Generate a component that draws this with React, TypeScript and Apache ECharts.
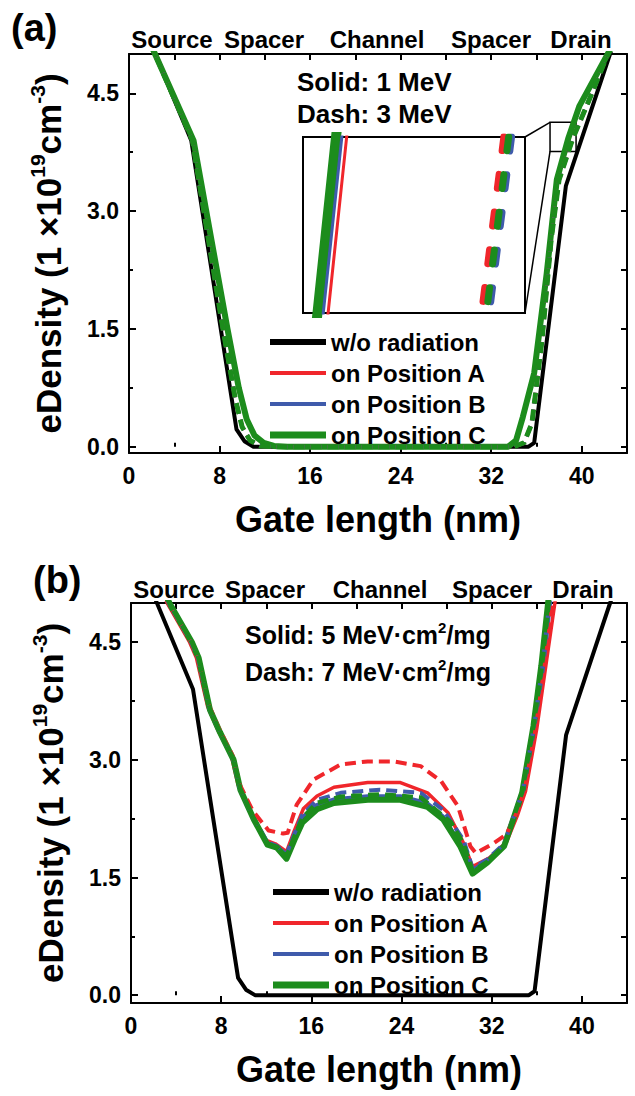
import React, { useEffect, useRef } from "react";
import * as echarts from "echarts";

const FONT = '"Liberation Sans", Arial, Helvetica, sans-serif';

// ---- tick labels / categories ----
const xMajorTicks = [0, 8, 16, 24, 32, 40];
const xMinorTicks = [4, 12, 20, 28, 36];
const xTopTicks = [0, 4, 8, 12, 16, 20, 24, 28, 32, 36, 40, 44];
const yMajorTicks = [0, 1.5, 3.0, 4.5];
const yMinorTicks = [0.75, 2.25, 3.75];
const yRightTicks = [0, 0.75, 1.5, 2.25, 3.0, 3.75, 4.5];
const legendNames = ["w/o radiation", "on Position A", "on Position B", "on Position C"];
const regionLabels = ["Source", "Spacer", "Channel", "Spacer", "Drain"];

// ---- data: [gate length (nm), eDensity (1e19 cm^-3)] ----
const noRadiation = [[0, 5.77], [2.3, 5.0], [5.5, 3.9], [9.5, 0.22], [10.2, 0.07], [11.0, 0.0], [35.3, 0.0], [35.8, 0.05], [38.6, 3.32], [42.5, 5.0], [44, 5.6]];

// panel (a) solid: 1 MeV
const posA_1MeV = [[0, 5.75], [2.3, 5.0], [5.7, 3.9], [8.7, 1.5], [9.7, 0.76], [10.4, 0.36], [11.1, 0.15], [11.9, 0.05], [12.8, 0.01], [14.0, 0.0], [33.5, 0.0], [34.2, 0.08], [34.8, 0.37], [35.8, 0.93], [36.92, 2.2], [37.822, 3.4], [38.822, 3.92], [39.82, 4.34], [42.3, 5.0], [44, 5.45]];
const posB_1MeV = [[0, 5.75], [2.3, 5.0], [5.7, 3.9], [8.7, 1.5], [9.7, 0.76], [10.4, 0.36], [11.1, 0.14], [11.9, 0.05], [12.8, 0.01], [14.0, 0.0], [33.5, 0.0], [34.2, 0.08], [34.8, 0.37], [35.8, 0.93], [36.91, 2.2], [37.812, 3.4], [38.812, 3.92], [39.81, 4.34], [42.3, 5.0], [44, 5.45]];
const posC_1MeV = [[0, 5.75], [2.3, 5.0], [5.7, 3.9], [8.7, 1.5], [9.7, 0.75], [10.4, 0.35], [11.1, 0.14], [11.9, 0.05], [12.8, 0.01], [14.0, 0.0], [33.5, 0.0], [34.2, 0.08], [34.8, 0.38], [35.8, 0.94], [36.9, 2.2], [37.8, 3.4], [38.8, 3.92], [39.8, 4.34], [42.3, 5.0], [44, 5.45]];
// panel (a) dash: 3 MeV
const posA_3MeV = [[0, 5.75], [2.3, 5.0], [5.6, 3.9], [8.3, 1.5], [9.4, 0.6], [10.0, 0.25], [10.7, 0.08], [11.6, 0.01], [13.0, 0.0], [34.0, 0.0], [34.9, 0.05], [35.6, 0.3], [36.5, 1.37], [37.3, 2.64], [37.99, 3.4], [39.19, 3.92], [40.7, 4.43], [42.3, 5.0], [44, 5.5]];
const posB_3MeV = [[0, 5.75], [2.3, 5.0], [5.6, 3.9], [8.3, 1.5], [9.4, 0.6], [10.0, 0.25], [10.7, 0.08], [11.6, 0.01], [13.0, 0.0], [34.0, 0.0], [34.9, 0.05], [35.6, 0.3], [36.5, 1.37], [37.3, 2.64], [38.006, 3.4], [39.206, 3.92], [40.7, 4.43], [42.3, 5.0], [44, 5.5]];
const posC_3MeV = [[0, 5.75], [2.3, 5.0], [5.6, 3.9], [8.3, 1.5], [9.4, 0.6], [10.0, 0.25], [10.7, 0.08], [11.6, 0.01], [13.0, 0.0], [34.0, 0.0], [34.9, 0.05], [35.6, 0.3], [36.5, 1.37], [37.3, 2.64], [38.0, 3.4], [39.2, 3.92], [40.7, 4.43], [42.3, 5.0], [44, 5.5]];

// panel (b) solid: 5 MeV·cm2/mg
const posA_5LET = [[1.9, 5.5], [3.2, 5.0], [5.2, 4.5], [5.8, 4.3], [6.8, 3.68], [7.7, 3.38], [8.9, 3.05], [9.5, 2.68], [10.7, 2.3], [11.9, 1.98], [12.8, 1.93], [13.8, 1.83], [14.5, 2.1], [15.3, 2.38], [16.5, 2.54], [18, 2.65], [21, 2.71], [23.9, 2.71], [26.3, 2.58], [28.1, 2.33], [29.5, 1.94], [30.3, 1.64], [31.8, 1.75], [33.3, 1.95], [34.3, 2.3], [35.0, 2.6], [36.0, 3.4], [36.8, 4.2], [37.6, 5.0], [38.1, 5.6]];
const posB_5LET = [[2.0, 5.5], [3.3, 5.0], [5.3, 4.5], [5.9, 4.3], [6.9, 3.66], [7.8, 3.37], [9.0, 3.03], [9.6, 2.65], [10.8, 2.27], [12.0, 1.95], [12.9, 1.9], [13.8, 1.8], [14.5, 2.03], [15.2, 2.27], [16.5, 2.43], [18, 2.5], [21, 2.54], [23.9, 2.54], [26.3, 2.45], [27.7, 2.28], [29.2, 1.94], [30.3, 1.6], [31.6, 1.72], [33.2, 1.93], [34.1, 2.3], [34.8, 2.6], [35.8, 3.43], [36.6, 4.2], [37.2, 5.0], [37.7, 5.6]];
const posC_5LET = [[2.0, 5.5], [3.4, 5.0], [5.4, 4.5], [6.0, 4.3], [7.0, 3.64], [7.9, 3.35], [9.1, 3.0], [9.7, 2.62], [10.9, 2.24], [12.1, 1.92], [12.95, 1.88], [13.8, 1.74], [14.5, 1.98], [15.2, 2.2], [16.5, 2.37], [18, 2.45], [21, 2.49], [23.9, 2.49], [26.3, 2.4], [27.7, 2.24], [29.2, 1.9], [30.3, 1.55], [31.6, 1.69], [33.1, 1.9], [34.0, 2.28], [34.7, 2.58], [35.7, 3.43], [36.4, 4.2], [37.0, 5.0], [37.5, 5.6]];
// panel (b) dash: 7 MeV·cm2/mg
const posA_7LET = [[1.9, 5.5], [3.3, 5.0], [5.3, 4.5], [5.9, 4.3], [6.9, 3.7], [7.8, 3.4], [9.0, 3.06], [9.6, 2.7], [10.8, 2.35], [12.2, 2.1], [13.5, 2.06], [13.9, 2.07], [14.7, 2.43], [16.2, 2.75], [18.6, 2.94], [21, 2.98], [23.3, 2.98], [25.7, 2.92], [27.5, 2.73], [29, 2.41], [30.1, 1.9], [30.6, 1.81], [32.2, 1.94], [33.3, 2.05], [34.2, 2.32], [34.9, 2.6], [35.9, 3.4], [36.7, 4.2], [37.4, 5.0], [37.9, 5.6]];
const posB_7LET = [[2.0, 5.5], [3.35, 5.0], [5.35, 4.5], [5.95, 4.3], [6.95, 3.66], [7.85, 3.36], [9.05, 3.02], [9.65, 2.64], [10.85, 2.26], [12.1, 1.95], [12.95, 1.9], [13.8, 1.8], [14.5, 2.06], [15.2, 2.3], [16.5, 2.49], [18.6, 2.58], [22.1, 2.62], [25.7, 2.58], [27.7, 2.36], [29.5, 1.98], [30.3, 1.62], [31.6, 1.73], [33.1, 1.93], [34.0, 2.3], [34.75, 2.6], [35.75, 3.43], [36.5, 4.2], [37.1, 5.0], [37.6, 5.6]];
const posC_7LET = [[2.0, 5.5], [3.4, 5.0], [5.4, 4.5], [6.0, 4.3], [7.0, 3.65], [7.9, 3.35], [9.1, 3.01], [9.7, 2.63], [10.9, 2.25], [12.1, 1.93], [12.95, 1.89], [13.8, 1.77], [14.5, 2.02], [15.2, 2.26], [16.5, 2.45], [18.6, 2.53], [22.1, 2.56], [25.7, 2.52], [28.4, 2.2], [29.5, 1.93], [30.3, 1.58], [31.6, 1.7], [33.1, 1.91], [34.0, 2.29], [34.7, 2.59], [35.7, 3.43], [36.45, 4.2], [37.05, 5.0], [37.55, 5.6]];

// zoom window (a): marked box on the main plot and the inset's axis ranges
const zoomBox = [37.2, 39.5, 3.76, 4.13]; // xMin, xMax, yMin, yMax
const insetXRange = [38.52, 38.98];
const insetYRange = [3.79, 3.81];

// ---- styles / layout ----
const COLORS = { none: "#000000", A: "#f0262b", B: "#3f5bab", C: "#1c8c1c" };
const LEGEND_ICON_THICKNESS = [6, 4, 4, 7];
const GRID_A = { left: 129, top: 54, width: 498, height: 399 };
const GRID_B = { left: 131, top: 603, width: 496, height: 400 };
const GRID_IN = { left: 303, top: 137, width: 222, height: 176 };
const Y_MIN_A = -0.08;
const Y_MIN_B = -0.1;

const black = "#000";
const boldText = (size: number) => ({ fontSize: size, fontWeight: "bold" as const, color: black, fontFamily: FONT });

function xAxes(grid: number, withLabels: boolean) {
  const line = { show: true, onZero: false, lineStyle: { color: black, width: 2 } };
  return [
    {
      gridIndex: grid, type: "value", min: 0, max: 44, position: "bottom",
      axisLine: line,
      axisTick: { show: true, inside: true, length: 7, customValues: xMajorTicks, lineStyle: { color: black, width: 2 } },
      axisLabel: { show: withLabels, margin: 11, customValues: xMajorTicks, ...boldText(23) },
      splitLine: { show: false },
      name: "Gate length (nm)", nameLocation: "middle", nameGap: 48,
      nameTextStyle: boldText(36),
    },
    {
      gridIndex: grid, type: "value", min: 0, max: 44, position: "bottom",
      axisLine: { show: false },
      axisTick: { show: true, inside: true, length: 4, customValues: xMinorTicks, lineStyle: { color: black, width: 2 } },
      axisLabel: { show: false }, splitLine: { show: false },
    },
    {
      gridIndex: grid, type: "value", min: 0, max: 44, position: "top",
      axisLine: line,
      axisTick: { show: true, inside: true, length: 6, customValues: xTopTicks, lineStyle: { color: black, width: 2 } },
      axisLabel: { show: false }, splitLine: { show: false },
    },
  ];
}

function yAxes(grid: number, yMin: number) {
  const line = { show: true, onZero: false, lineStyle: { color: black, width: 2 } };
  return [
    {
      gridIndex: grid, type: "value", min: yMin, max: 5.0, position: "left",
      axisLine: line,
      axisTick: { show: true, inside: true, length: 7, customValues: yMajorTicks, lineStyle: { color: black, width: 2 } },
      axisLabel: { show: true, margin: 10, customValues: yMajorTicks, formatter: (v: number) => v.toFixed(1), ...boldText(23) },
      splitLine: { show: false },
      name: "{n|eDensity (1 ×10}{s|19}{n|cm}{s|-3}{n|)}",
      nameLocation: "middle", nameRotate: 90, nameGap: 60,
      nameTextStyle: {
        rich: {
          n: { ...boldText(35), lineHeight: 42 },
          s: { ...boldText(21), verticalAlign: "top", lineHeight: 24 },
        },
      },
    },
    {
      gridIndex: grid, type: "value", min: yMin, max: 5.0, position: "left",
      axisLine: { show: false },
      axisTick: { show: true, inside: true, length: 4, customValues: yMinorTicks, lineStyle: { color: black, width: 2 } },
      axisLabel: { show: false }, splitLine: { show: false },
    },
    {
      gridIndex: grid, type: "value", min: yMin, max: 5.0, position: "right",
      axisLine: line,
      axisTick: { show: true, inside: true, length: 6, customValues: yRightTicks, lineStyle: { color: black, width: 2 } },
      axisLabel: { show: false }, splitLine: { show: false },
    },
  ];
}

function line(name: string, data: number[][], color: string, width: number, dash: number[] | null, xi: number, yi: number, extra: any = {}) {
  return {
    type: "line", name, data, xAxisIndex: xi, yAxisIndex: yi,
    symbol: "none", showSymbol: false, clip: true, silent: true, animation: false,
    lineStyle: { color, width, type: dash ? dash : "solid", cap: extra.cap || "butt", join: "round" },
    itemStyle: { color },
    emphasis: { disabled: true },
    ...(extra.markArea ? { markArea: extra.markArea } : {}),
  };
}

function legend(left: number, top: number) {
  return {
    left, top, orient: "vertical", selectedMode: false,
    itemWidth: 56, itemHeight: 8, itemGap: 7, symbolKeepAspect: true,
    data: legendNames.map((name, i) => ({
      name,
      icon: `path://M0,0H56V${LEGEND_ICON_THICKNESS[i]}H0Z`,
    })),
    textStyle: { ...boldText(24), lineHeight: 24 },
  };
}

function buildOption() {
  const [nA, nB, nC, nN] = [legendNames[1], legendNames[2], legendNames[3], legendNames[0]];
  const dashMain = [11, 6];
  const zoomMark = {
    silent: true,
    label: { show: false },
    itemStyle: { color: "rgba(0,0,0,0)", borderColor: black, borderWidth: 1.5 },
    data: [[{ coord: [zoomBox[0], zoomBox[3]] }, { coord: [zoomBox[1], zoomBox[2]] }]],
  };
  const series = [
    // panel (a): x 0, y 0
    line(nN, noRadiation, COLORS.none, 4, null, 0, 0, { markArea: zoomMark }),
    line(nA, posA_1MeV, COLORS.A, 3.5, null, 0, 0),
    line(nB, posB_1MeV, COLORS.B, 3.5, null, 0, 0),
    line(nC, posC_1MeV, COLORS.C, 6, null, 0, 0),
    line(nA, posA_3MeV, COLORS.A, 4, dashMain, 0, 0),
    line(nB, posB_3MeV, COLORS.B, 4, dashMain, 0, 0),
    line(nC, posC_3MeV, COLORS.C, 5, dashMain, 0, 0),
    // panel (b): x 3, y 3
    line(nN, noRadiation, COLORS.none, 4, null, 3, 3),
    line(nA, posA_5LET, COLORS.A, 3.5, null, 3, 3),
    line(nB, posB_5LET, COLORS.B, 3.5, null, 3, 3),
    line(nC, posC_5LET, COLORS.C, 6, null, 3, 3),
    line(nA, posA_7LET, COLORS.A, 4, dashMain, 3, 3),
    line(nB, posB_7LET, COLORS.B, 4, dashMain, 3, 3),
    line(nC, posC_7LET, COLORS.C, 4.5, dashMain, 3, 3),
    // inset: x 6, y 6
    line(nC, posC_1MeV, COLORS.C, 10, null, 6, 6),
    line(nB, posB_1MeV, COLORS.B, 3, null, 6, 6),
    line(nA, posA_1MeV, COLORS.A, 3, null, 6, 6),
    line(nA, posA_3MeV, COLORS.A, 7, [14, 24], 6, 6, { cap: "round" }),
    line(nB, posB_3MeV, COLORS.B, 7, [14, 24], 6, 6, { cap: "round" }),
    line(nC, posC_3MeV, COLORS.C, 7, [14, 24], 6, 6, { cap: "round" }),
  ];
  return {
    animation: false,
    backgroundColor: "#ffffff",
    textStyle: { fontFamily: FONT },
    grid: [
      { ...GRID_A, outerBoundsMode: "none", containLabel: false },
      { ...GRID_B, outerBoundsMode: "none", containLabel: false },
      { ...GRID_IN, outerBoundsMode: "none", containLabel: false, show: true, backgroundColor: "#ffffff", borderColor: black, borderWidth: 2, z: 3 },
    ],
    xAxis: [
      ...xAxes(0, true),
      ...xAxes(1, true),
      { gridIndex: 2, type: "value", min: insetXRange[0], max: insetXRange[1], show: false },
    ],
    yAxis: [
      ...yAxes(0, Y_MIN_A),
      ...yAxes(1, Y_MIN_B),
      { gridIndex: 2, type: "value", min: insetYRange[0], max: insetYRange[1], show: false },
    ],
    legend: [legend(265, 325), legend(268, 875)],
    series,
  };
}

function txt(id: string, text: string, x: number, y: number, size: number, align = "center") {
  return {
    type: "text", id, x, y, silent: true, z: 10,
    style: { text, fill: black, fontSize: size, fontWeight: "bold", fontFamily: FONT, textAlign: align, textVerticalAlign: "middle" },
  };
}

function richTxt(id: string, main1: string, sup: string, main2: string, x: number, y: number, size: number) {
  return {
    type: "text", id, x, y, silent: true, z: 10,
    style: {
      text: `{n|${main1}}{s|${sup}}{n|${main2}}`,
      textAlign: "left", textVerticalAlign: "middle",
      rich: {
        n: { fontSize: size, fontWeight: "bold", fontFamily: FONT, fill: black, lineHeight: size + 6 },
        s: { fontSize: Math.round(size * 0.6), fontWeight: "bold", fontFamily: FONT, fill: black, verticalAlign: "top", lineHeight: Math.round(size * 0.6) + 2 },
      },
    },
  };
}

function buildGraphic(pTop: number[], pBottom: number[]) {
  const regA = [172, 264, 377, 491, 581];
  const regB = [174, 265, 380, 492, 583];
  const insetRight = GRID_IN.left + GRID_IN.width;
  const insetBottom = GRID_IN.top + GRID_IN.height;
  const els: any[] = [
    txt("pa", "(a)", 11, 28, 38, "left"),
    txt("pb", "(b)", 33, 580, 38, "left"),
    ...regionLabels.map((t, i) => txt("ra" + i, t, regA[i], 39, 24)),
    ...regionLabels.map((t, i) => txt("rb" + i, t, regB[i], 589, 24)),
    txt("sa", "Solid: 1 MeV", 297, 82, 26, "left"),
    txt("da", "Dash: 3 MeV", 297, 114, 26, "left"),
    richTxt("sb", "Solid: 5 MeV·cm", "2", "/mg", 245, 635, 25),
    richTxt("db", "Dash: 7 MeV·cm", "2", "/mg", 245, 672, 25),
    {
      type: "line", id: "c1", silent: true, z: 10,
      shape: { x1: insetRight, y1: GRID_IN.top, x2: pTop[0], y2: pTop[1] },
      style: { stroke: black, lineWidth: 1.5 },
    },
    {
      type: "line", id: "c2", silent: true, z: 10,
      shape: { x1: insetRight, y1: insetBottom, x2: pBottom[0], y2: pBottom[1] },
      style: { stroke: black, lineWidth: 1.5 },
    },
  ];
  return els;
}

export default function App() {
  const ref = useRef<HTMLDivElement>(null);
  useEffect(() => {
    if (!ref.current) return;
    const chart = echarts.init(ref.current, null, { renderer: "svg" });
    chart.setOption(buildOption() as any);
    const pTop = chart.convertToPixel({ xAxisIndex: 0, yAxisIndex: 0 } as any, [zoomBox[0], zoomBox[3]]) as number[];
    const pBottom = chart.convertToPixel({ xAxisIndex: 0, yAxisIndex: 0 } as any, [zoomBox[0], zoomBox[2]]) as number[];
    chart.setOption({ graphic: buildGraphic(pTop, pBottom) } as any);
    return () => chart.dispose();
  }, []);
  return <div ref={ref} style={{ position: "absolute", left: 0, top: 0, width: 635, height: 1096, background: "#fff" }} />;
}
